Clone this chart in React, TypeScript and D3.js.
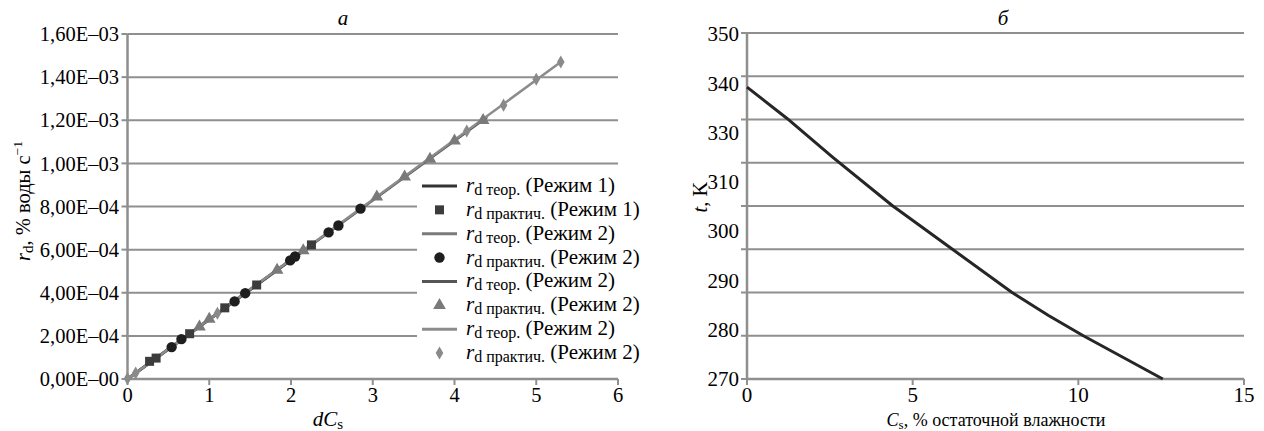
import React from "react";
import * as d3 from "d3";

// --- panel a: drying rate vs dCs ---
const xTicksA = [0, 1, 2, 3, 4, 5, 6];
const yTicksA = [0, 2e-4, 4e-4, 6e-4, 8e-4, 1e-3, 1.2e-3, 1.4e-3, 1.6e-3];
const yTickLabelsA = ["0,00E–00", "2,00E–04", "4,00E–04", "6,00E–04", "8,00E–04", "1,00E–03", "1,20E–03", "1,40E–03", "1,60E–03"];

// theory lines (endpoints)
const theo1 = [[0, 0], [2.3, 6.35e-4]];
const theo2 = [[0, 0], [2.9, 8.02e-4]];
const theo3 = [[0, 0], [4.4, 1.215e-3]];
const theo4 = [[0, 0], [5.3, 1.47e-3]];

// measured points
const prac1 = [[0.27, 0.82e-4], [0.35, 0.97e-4], [0.76, 2.1e-4], [1.19, 3.3e-4], [1.58, 4.36e-4], [2.25, 6.22e-4]];
const prac2 = [[0.54, 1.48e-4], [0.66, 1.85e-4], [1.31, 3.6e-4], [1.44, 3.98e-4], [1.99, 5.5e-4], [2.05, 5.68e-4], [2.46, 6.8e-4], [2.58, 7.12e-4], [2.85, 7.9e-4]];
const prac3 = [[0.88, 2.42e-4], [1.0, 2.78e-4], [1.83, 5.05e-4], [2.15, 5.95e-4], [3.05, 8.45e-4], [3.39, 9.38e-4], [3.7, 1.02e-3], [4.0, 1.105e-3], [4.35, 1.2e-3]];
const prac4 = [[0, 0.02e-4], [0.1, 0.28e-4], [1.1, 3.05e-4], [4.15, 1.15e-3], [4.6, 1.27e-3], [5.0, 1.39e-3], [5.3, 1.47e-3]];

const legendLabels = [
  ["теор.", "(Режим 1)"],
  ["практич.", "(Режим 1)"],
  ["теор.", "(Режим 2)"],
  ["практич.", "(Режим 2)"],
  ["теор.", "(Режим 2)"],
  ["практич.", "(Режим 2)"],
  ["теор.", "(Режим 2)"],
  ["практич.", "(Режим 2)"],
];

// --- panel б: temperature vs residual moisture ---
const xTicksB = [0, 5, 10, 15];
const yGridB = [270, 280, 290, 300, 310, 320, 330, 340, 350];
const yTickLabelsB = ["350", "340", "330", "310", "300", "290", "280", "270"];
const curveCs = [0, 1.2, 2.6, 4.4, 4.6, 6.2, 8.0, 9.1, 10.15, 12.55];
const curveT = [337.5, 330.3, 321.2, 310, 308.9, 300, 290, 284.7, 280, 270];

const TXT = { fontFamily: "Liberation Serif" };
const GRID = "#8f8f8f";

function Marker({ kind, x, y }: { kind: string; x: number; y: number }) {
  if (kind === "square") return <rect x={x - 4.5} y={y - 4.5} width={9} height={9} fill="#3c3c3c" />;
  if (kind === "circle") return <circle cx={x} cy={y} r={5.2} fill="#1e1e1e" />;
  if (kind === "triangle") {
    const p = d3.symbol(d3.symbolTriangle, 70)();
    return <path d={p || ""} transform={`translate(${x},${y})`} fill="#7a7a7a" />;
  }
  const p = d3.symbol(d3.symbolDiamond, 50)();
  return <path d={p || ""} transform={`translate(${x},${y})`} fill="#8a8a8a" />;
}

export default function App() {
  // panel a scales
  const xA = d3.scaleLinear().domain([0, 6]).range([127.5, 618]);
  const yA = d3.scaleLinear().domain([0, 1.6e-3]).range([379, 34]);
  const lineA = d3.line<number[]>().x((d) => xA(d[0])).y((d) => yA(d[1]));

  // panel б scales
  const xB = d3.scaleLinear().domain([0, 15]).range([747, 1244]);
  const yB = d3.scaleLinear().domain([270, 350]).range([379, 33]);
  const yLabB = d3.scalePoint<string>().domain(yTickLabelsB).range([34, 379]);
  const lineB = d3
    .line<number>()
    .x((d, i) => xB(curveCs[i]))
    .y((d) => yB(d));

  const theoLines = [
    { data: theo1, color: "#333333", w: 3 },
    { data: theo2, color: "#7a7a7a", w: 2.5 },
    { data: theo3, color: "#555555", w: 2.5 },
    { data: theo4, color: "#8c8c8c", w: 2.5 },
  ];
  const pracSets = [
    { data: prac3, kind: "triangle" },
    { data: prac4, kind: "diamond" },
    { data: prac1, kind: "square" },
    { data: prac2, kind: "circle" },
  ];
  const legendKinds = [
    { t: "line", color: "#333333" },
    { t: "square" },
    { t: "line", color: "#7a7a7a" },
    { t: "circle" },
    { t: "line", color: "#555555" },
    { t: "triangle" },
    { t: "line", color: "#8c8c8c" },
    { t: "diamond" },
  ];
  const legY = d3.scaleLinear().domain([0, 7]).range([186, 353]);

  return (
    <svg width={1264} height={431} style={{ position: "absolute", left: 0, top: 0, background: "#fff" }}>
      {/* ================= panel a ================= */}
      <text x={343} y={25} fontSize={21} fontStyle="italic" textAnchor="middle" style={TXT}>a</text>
      {yTicksA.map((t, i) => (
        <g key={"ga" + i}>
          {i > 0 && <line x1={xA(0)} x2={xA(6)} y1={yA(t)} y2={yA(t)} stroke={GRID} strokeWidth={2} />}
          <line x1={xA(0) - 6} x2={xA(0)} y1={yA(t)} y2={yA(t)} stroke={GRID} strokeWidth={2} />
          <text x={119} y={yA(t)} dy="0.35em" fontSize={20.5} textAnchor="end" style={TXT}>{yTickLabelsA[i]}</text>
        </g>
      ))}
      <line x1={xA(0)} x2={xA(0)} y1={yA(1.6e-3)} y2={yA(0)} stroke={GRID} strokeWidth={2.5} />
      <line x1={xA(0)} x2={xA(6)} y1={yA(0)} y2={yA(0)} stroke={GRID} strokeWidth={2.5} />
      {xTicksA.map((t) => (
        <g key={"xa" + t}>
          <line x1={xA(t)} x2={xA(t)} y1={yA(0)} y2={yA(0) + 6} stroke={GRID} strokeWidth={2} />
          <text x={xA(t)} y={402} fontSize={20.5} textAnchor="middle" style={TXT}>{t}</text>
        </g>
      ))}
      {theoLines.map((l, i) => (
        <path key={"tl" + i} d={lineA(l.data) || ""} fill="none" stroke={l.color} strokeWidth={l.w} />
      ))}
      {pracSets.map((s, i) =>
        s.data.map((d, j) => <Marker key={`m${i}-${j}`} kind={s.kind} x={xA(d[0])} y={yA(d[1])} />)
      )}

      {/* legend */}
      <rect x={417} y={174} width={235} height={192} fill="#fff" />
      {legendKinds.map((k, i) => (
        <g key={"lg" + i}>
          {k.t === "line" ? (
            <line x1={422} x2={457} y1={legY(i)} y2={legY(i)} stroke={k.color} strokeWidth={3} />
          ) : (
            <Marker kind={k.t} x={439.5} y={legY(i)} />
          )}
          <text x={466} y={legY(i) + 6} fontSize={21} style={TXT}>
            <tspan fontStyle="italic">r</tspan>
            <tspan fontSize={16} dy={3}>d {legendLabels[i][0]}</tspan>
            <tspan dy={-3}> {legendLabels[i][1]}</tspan>
          </text>
        </g>
      ))}

      {/* axis titles a */}
      <text transform="translate(30,201) rotate(-90)" fontSize={20.5} textAnchor="middle" style={TXT}>
        <tspan fontStyle="italic">r</tspan>
        <tspan fontSize={15} dy={3}>d</tspan>
        <tspan dy={-3}>, % воды с</tspan>
        <tspan fontSize={13.5} dy={-8}>−1</tspan>
      </text>
      <text x={328} y={426} fontSize={21} textAnchor="middle" style={TXT}>
        <tspan fontStyle="italic">dC</tspan>
        <tspan fontSize={15} dy={3}>s</tspan>
      </text>

      {/* ================= panel б ================= */}
      <text x={1003} y={25} fontSize={21} fontStyle="italic" textAnchor="middle" style={TXT}>б</text>
      {yGridB.map((t) => (
        <g key={"gb" + t}>
          {t > 270 && <line x1={xB(0)} x2={xB(15)} y1={yB(t)} y2={yB(t)} stroke={GRID} strokeWidth={2} />}
          <line x1={xB(0) - 6} x2={xB(0)} y1={yB(t)} y2={yB(t)} stroke={GRID} strokeWidth={2} />
        </g>
      ))}
      {yTickLabelsB.map((l) => (
        <text key={"lb" + l} x={739} y={yLabB(l)} dy="0.35em" fontSize={21} textAnchor="end" style={TXT}>{l}</text>
      ))}
      <line x1={xB(0)} x2={xB(0)} y1={yB(350)} y2={yB(270)} stroke={GRID} strokeWidth={2.5} />
      <line x1={xB(0)} x2={xB(15)} y1={yB(270)} y2={yB(270)} stroke={GRID} strokeWidth={2.5} />
      {xTicksB.map((t) => (
        <g key={"xb" + t}>
          <line x1={xB(t)} x2={xB(t)} y1={yB(270)} y2={yB(270) + 6} stroke={GRID} strokeWidth={2} />
          <text x={xB(t)} y={402} fontSize={21} textAnchor="middle" style={TXT}>{t}</text>
        </g>
      ))}
      <path d={lineB(curveT) || ""} fill="none" stroke="#262626" strokeWidth={3} strokeLinejoin="round" />

      <text transform="translate(707,197) rotate(-90)" fontSize={20.5} textAnchor="middle" style={TXT}>
        <tspan fontStyle="italic">t</tspan>
        <tspan>, K</tspan>
      </text>
      <text x={996} y={426} fontSize={18} textAnchor="middle" style={TXT}>
        <tspan fontStyle="italic">C</tspan>
        <tspan fontSize={13} dy={3}>s</tspan>
        <tspan dy={-3}>, % остаточной влажности</tspan>
      </text>
    </svg>
  );
}
